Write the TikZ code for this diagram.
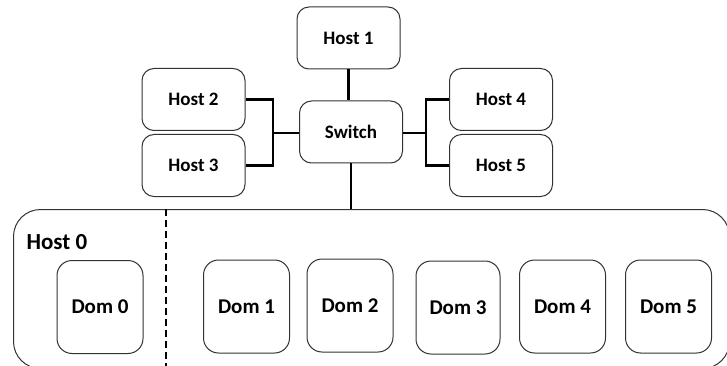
\documentclass[tikz,border=0pt]{standalone}
\usepackage{fontspec}
\setmainfont{Carlito}

\tikzset{
  hostbox/.style={draw=black!80, line width=1pt, rounded corners=12pt, inner sep=0pt,
    minimum width=103pt, minimum height=62pt, font=\fontsize{19}{21}\selectfont\bfseries},
  dombox/.style={draw=black!80, line width=1pt, rounded corners=15pt, inner sep=0pt,
    minimum width=86pt, minimum height=93pt, font=\fontsize{21}{23}\selectfont\bfseries},
  link/.style={line width=2.4pt},
  split/.style={line width=1.8pt, dash pattern=on 7pt off 4pt},
}

\begin{document}
\begin{tikzpicture}[x=1pt,y=-1pt]
\useasboundingbox (0,0) rectangle (727,366);
\clip (0,0) rectangle (727,366);
% physical machine, runs just past the page edge
\node[draw=black!80, line width=1pt, rounded corners=27pt, inner sep=0pt,
      minimum width=716pt, minimum height=159pt, anchor=north west] (h0) at (13,209) {};
\node[anchor=west, font=\fontsize{23}{25}\selectfont\bfseries] (h0lbl) at (23,242) {Host 0};
\draw[split] (166,209) -- (166,366);

% network
\node[hostbox] (sw) at (351,132) {Switch};
\node[hostbox] (h1) at (348.5,38) {Host 1};
\node[hostbox] (h2) at (193.5,99.5) {Host 2};
\node[hostbox] (h3) at (193.5,165.5) {Host 3};
\node[hostbox] (h4) at (501,99.5) {Host 4};
\node[hostbox] (h5) at (501,165.5) {Host 5};
\coordinate (jl) at (273,133);
\coordinate (jr) at (426,133);

\draw[link] (h1.south) -- (h1.south |- sw.north);
\draw[link] (h2.east) -| (jl) -- (sw.west |- jl);
\draw[link] (h3.east) -| (jl);
\draw[link] (h4.west) -| (jr) -- (sw.east |- jr);
\draw[link] (h5.west) -| (jr);
\draw[link] (sw.south) -- (sw.south |- h0.north);

% domains
\node[dombox] (d0) at (100,307) {Dom 0};
\node[dombox] (d1) at (246.5,306.5) {Dom 1};
\node[dombox] (d2) at (350,305.5) {Dom 2};
\node[dombox, minimum width=84pt] (d3) at (458,307.5) {Dom 3};
\node[dombox] (d4) at (562.5,306.5) {Dom 4};
\node[dombox] (d5) at (668.5,306.5) {Dom 5};
\end{tikzpicture}
\end{document}
